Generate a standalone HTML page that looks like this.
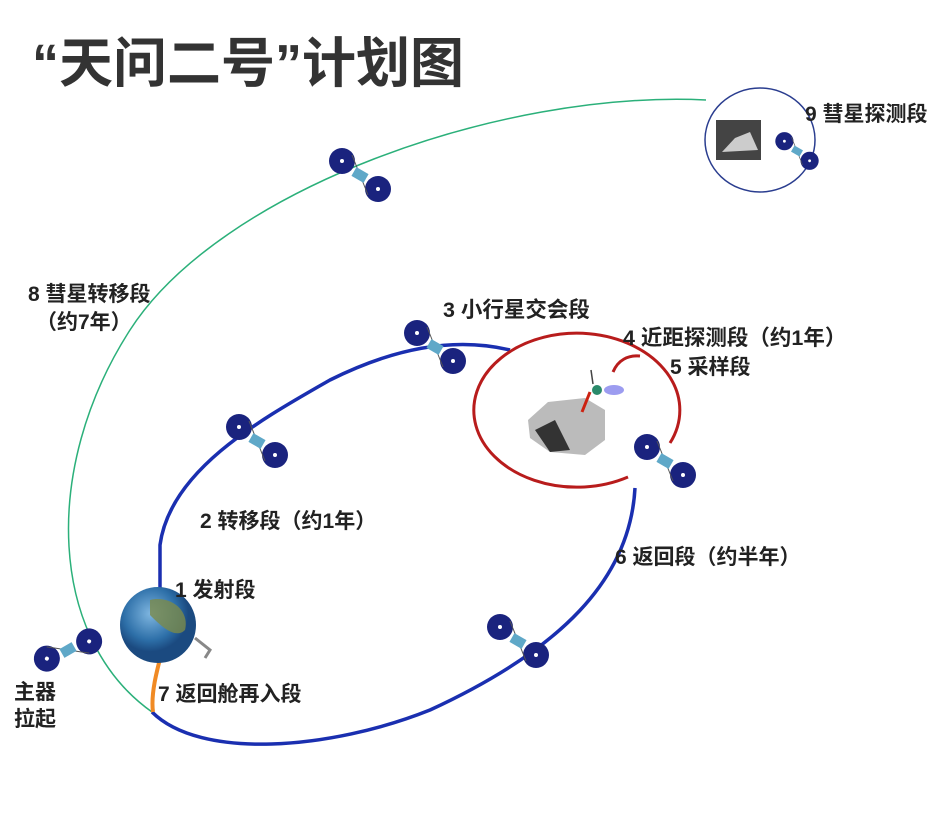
<!DOCTYPE html>
<html><head><meta charset="utf-8"><style>
body{margin:0;background:#fff;width:949px;height:828px;overflow:hidden}
svg{display:block}
text{font-family:"Liberation Sans","Noto Sans CJK SC",sans-serif;font-weight:bold;fill:#222}
</style></head><body>
<svg width="949" height="828" viewBox="0 0 949 828">
<defs>
<g id="sat">
<circle cx="-18" cy="-14" r="13" fill="#1a237e"/><circle cx="-18" cy="-14" r="2" fill="#fff"/>
<circle cx="18" cy="14" r="13" fill="#1a237e"/><circle cx="18" cy="14" r="2" fill="#fff"/>
<line x1="-8" y1="-20" x2="8" y2="20" stroke="#555" stroke-width="1"/>
<rect x="-7" y="-5" width="14" height="10" fill="#5fa8c8" transform="rotate(30)"/>
</g>
<radialGradient id="eg" cx="40%" cy="35%"><stop offset="0" stop-color="#7fb6e0"/><stop offset="0.7" stop-color="#2d6fa8"/><stop offset="1" stop-color="#1b4a80"/></radialGradient>
</defs>
<text x="32" y="82" font-size="54" style="fill:#333">“天问二号”计划图</text>
<path d="M152,712 C50,640 40,470 130,330 C220,190 500,90 706,100" fill="none" stroke="#2bb07a" stroke-width="1.5"/>
<ellipse cx="760" cy="140" rx="55" ry="52" fill="none" stroke="#2a3d8f" stroke-width="1.5"/>
<rect x="716" y="120" width="45" height="40" fill="#444"/>
<path d="M722,152 L735,138 L750,132 L758,150 Z" fill="#ccc"/>
<path d="M160,590 L160,545 C170,470 260,420 330,380 C400,345 460,338 510,350" fill="none" stroke="#1a2fb0" stroke-width="3.5"/>
<path d="M635,488 C630,580 560,650 430,710 C330,750 200,760 152,712" fill="none" stroke="#1a2fb0" stroke-width="3.5"/>
<path d="M670,443 A103,77 0 1 0 628,477" fill="none" stroke="#b81c1c" stroke-width="3"/>
<path d="M613,372 C618,360 628,355 640,356" fill="none" stroke="#b81c1c" stroke-width="3"/>
<path d="M167,632 C160,660 150,690 153,712" fill="none" stroke="#f08a24" stroke-width="4"/>
<path d="M528,420 L548,402 L585,398 L605,410 L605,440 L585,455 L550,452 L530,438 Z" fill="#bbb"/>
<path d="M535,430 L555,420 L570,450 L550,452 Z" fill="#333"/>
<line x1="582" y1="412" x2="590" y2="392" stroke="#c21" stroke-width="3"/>
<circle cx="597" cy="390" r="5" fill="#2a8a6a"/>
<ellipse cx="614" cy="390" rx="10" ry="5" fill="#9c9cf0"/>
<line x1="593" y1="384" x2="591" y2="370" stroke="#444" stroke-width="1.5"/>
<circle cx="158" cy="625" r="38" fill="url(#eg)"/>
<path d="M150,600 C170,595 190,610 185,630 C175,640 160,625 150,615 Z" fill="#7a8a4a" opacity="0.8"/>
<path d="M195,638 L210,650 L205,658" fill="none" stroke="#888" stroke-width="3"/>
<use href="#sat" x="360" y="175"/>
<use href="#sat" x="435" y="347"/>
<use href="#sat" x="257" y="441"/>
<use href="#sat" x="665" y="461"/>
<use href="#sat" x="518" y="641"/>
<g transform="translate(68,650) rotate(-60)"><use href="#sat"/></g>
<g transform="translate(797,151) scale(0.7)"><use href="#sat"/></g>
<text x="805" y="121" font-size="21">9 彗星探测段</text>
<text x="28" y="301" font-size="21">8 彗星转移段</text>
<text x="36" y="329" font-size="21">（约7年）</text>
<text x="443" y="317" font-size="21.5">3 小行星交会段</text>
<text x="623" y="345" font-size="21.5">4 近距探测段（约1年）</text>
<text x="670" y="374" font-size="21">5 采样段</text>
<text x="200" y="528" font-size="21">2 转移段（约1年）</text>
<text x="615" y="564" font-size="21">6 返回段（约半年）</text>
<text x="175" y="597" font-size="21">1 发射段</text>
<text x="158" y="701" font-size="21">7 返回舱再入段</text>
<text x="14" y="699" font-size="21">主器</text>
<text x="14" y="726" font-size="21">拉起</text>
</svg>
</body></html>
